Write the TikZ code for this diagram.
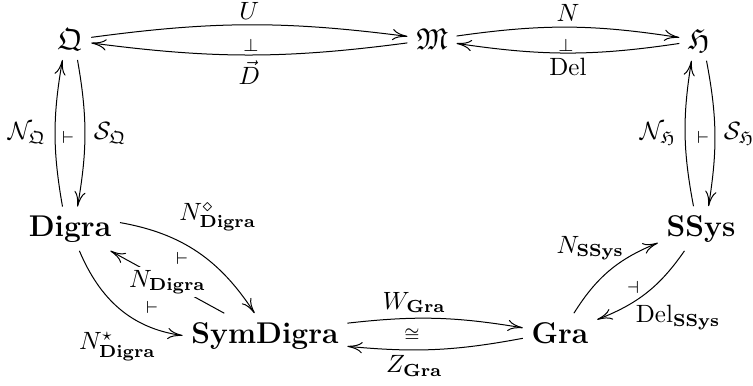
\documentclass[tikz,border=0pt]{standalone}
\usepackage{amssymb}
\usetikzlibrary{arrows.meta,calc}

\begin{document}
\begin{tikzpicture}[x=0.4pt,y=-0.4pt,
    obj/.style={font=\large,anchor=base},
    mor/.style={-{Computer Modern Rightarrow[length=6pt,width=4.5pt]}},
    lab/.style={font=\normalsize},
    desc/.style={lab,fill=white,inner sep=1pt},
    adj/.style={inner sep=0pt,font=\scriptsize}]

  \useasboundingbox (0,0) rectangle (753,386);

  % the objects
  \node[obj] (Q) at (70,50) {$\mathfrak{Q}$};
  \node[obj] (M) at (432,50) {$\mathfrak{M}$};
  \node[obj] (H) at (699,50) {$\mathfrak{H}$};
  \node[obj] (Digra) at (70,236) {\textbf{Digra}};
  \node[obj] (SSys) at (701,236) {\textbf{SSys}};
  \node[obj] (SymD) at (265,343) {\textbf{SymDigra}};
  \node[obj] (Gra) at (560,343) {\textbf{Gra}};

  % top row
  \draw[mor] (Q) to[bend left=7.5] node[lab,above,inner sep=2pt] (lU) {$U$} (M);
  \draw[mor] (M) to[bend left=7.5] node[lab,below,inner sep=2pt] (lD) {$\vec{D}$} (Q);
  \node[adj] (aQM) at (251,45) {$\perp$};

  \draw[mor] (M) to[bend left=8.5] node[lab,above,inner sep=2pt] (lN) {$N$} (H);
  \draw[mor] (H) to[bend left=8.5] node[lab,below,inner sep=2pt] (lDel) {$\mathrm{Del}$} (M);
  \node[adj] (aMH) at (566,45) {$\perp$};

  % verticals
  \draw[mor] ([xshift=-3pt]Digra.north) to[bend left=10] node[lab,left] (lNQ) {$\mathcal{N}_{\mathfrak{Q}}$} ([xshift=-3pt]Q.south);
  \draw[mor] ([xshift=3pt]Q.south) to[bend left=10] node[lab,right] (lSQ) {$\mathcal{S}_{\mathfrak{Q}}$} ([xshift=3pt]Digra.north);
  \node[adj] (aQD) at (68,137) {$\vdash$};

  \draw[mor] ([xshift=-3pt]SSys.north) to[bend left=10] node[lab,left] (lNH) {$\mathcal{N}_{\mathfrak{H}}$} ([xshift=-3pt]H.south);
  \draw[mor] ([xshift=3pt]H.south) to[bend left=10] node[lab,right] (lSH) {$\mathcal{S}_{\mathfrak{H}}$} ([xshift=3pt]SSys.north);
  \node[adj] (aHS) at (703,137) {$\vdash$};

  % digraphs
  \draw[mor] (Digra.7) to[out=-10,in=123] node[lab,pos=.4,anchor=south west,xshift=-5.5pt,yshift=1.5pt] (lNd) {$N^{\diamond}_{\mathbf{Digra}}$} (SymD.115);
  \draw[mor] (SymD) -- node[desc] (lNn) {$N_{\mathbf{Digra}}$} (Digra);
  \draw[mor] (Digra.-67) to[out=-67,in=172] node[lab,pos=.6,below=3pt,xshift=-5pt] (lNs) {$N^{\star}_{\mathbf{Digra}}$} (SymD.west);
  \node[adj] (aD1) at (182,258) {$\vdash$};
  \node[adj] (aD2) at (152,307) {$\vdash$};

  % bottom row
  \draw[mor] (SymD) to[bend left=8] node[lab,pos=.37,above,inner sep=2pt] (lW) {$W_{\mathbf{Gra}}$} (Gra);
  \draw[mor] (Gra) to[bend left=8] node[lab,pos=.63,below,inner sep=2pt] (lZ) {$Z_{\mathbf{Gra}}$} (SymD);
  \node[adj] (iso) at (412,335) {$\cong$};

  \draw[mor] (Gra) to[bend left=18] node[lab,pos=.6,above left,xshift=6pt,yshift=-2pt] (lNS) {$N_{\mathbf{SSys}}$} (SSys);
  \draw[mor] (SSys) to[bend left=17] node[lab,pos=.6,below right,xshift=-4.5pt,yshift=1pt] (lDS) {$\mathrm{Del}_{\mathbf{SSys}}$} (Gra);
  \node[adj] (aGS) at (633,287) {$\dashv$};

\end{tikzpicture}
\end{document}
